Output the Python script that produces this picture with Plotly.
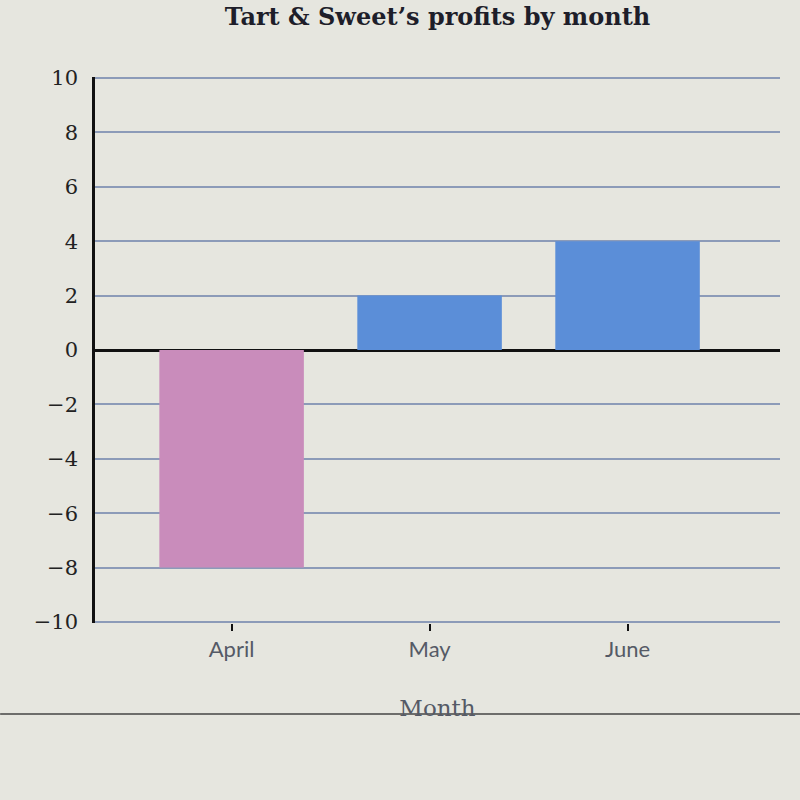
import plotly.graph_objects as go

months = ["April", "May", "June"]
profits = [-8, 2, 4]
bar_colors = ["#c98cbb", "#5b8ed8", "#5b8ed8"]
y_ticks = [-10, -8, -6, -4, -2, 0, 2, 4, 6, 8, 10]
y_tick_text = [("\u2212" + str(-v)) if v < 0 else str(v) for v in y_ticks]

bg = "#e6e6df"

fig = go.Figure()
fig.add_trace(go.Bar(
    x=list(range(len(months))), y=profits,
    marker=dict(color=bar_colors, line=dict(width=0)),
    width=0.73, hoverinfo="skip"
))

fig.update_layout(
    width=800, height=800,
    paper_bgcolor=bg, plot_bgcolor=bg,
    margin=dict(l=95, r=20, t=77, b=177),
    showlegend=False,
    title=dict(text="<b>Tart & Sweet’s profits by month</b>",
               x=0.5, xref="paper", y=0.99, yref="container",
               yanchor="top",
               font=dict(family="DejaVu Serif", size=24, color="#1e1e2a")),
    xaxis=dict(
        range=[-0.69, 2.77],
        tickvals=list(range(len(months))), ticktext=months,
        ticks="outside", ticklen=7, tickwidth=2, tickcolor="#111111",
        tickfont=dict(family="Lato", size=22, color="#555a66"),
        showgrid=False, zeroline=False, showline=False,
        title=dict(text="Month", standoff=38,
                   font=dict(family="DejaVu Serif", size=23, color="#555a66")),
    ),
    yaxis=dict(
        range=[-10.04, 10.04],
        tickvals=y_ticks, ticktext=y_tick_text,
        ticks="outside", ticklen=0,
        ticklabelstandoff=10,
        tickfont=dict(family="DejaVu Serif", size=21, color="#222222"),
        showgrid=True, gridcolor="#8c9bb8", gridwidth=1.5,
        zeroline=True, zerolinecolor="#111111", zerolinewidth=2.5,
        showline=True, linecolor="#111111", linewidth=2.5,
    ),
)

fig.add_shape(type="line", xref="paper", yref="paper",
              x0=-95/686, x1=1 + 20/686, y0=-91/546, y1=-91/546,
              line=dict(color="#444444", width=1.5))

fig.write_html("out.html")
